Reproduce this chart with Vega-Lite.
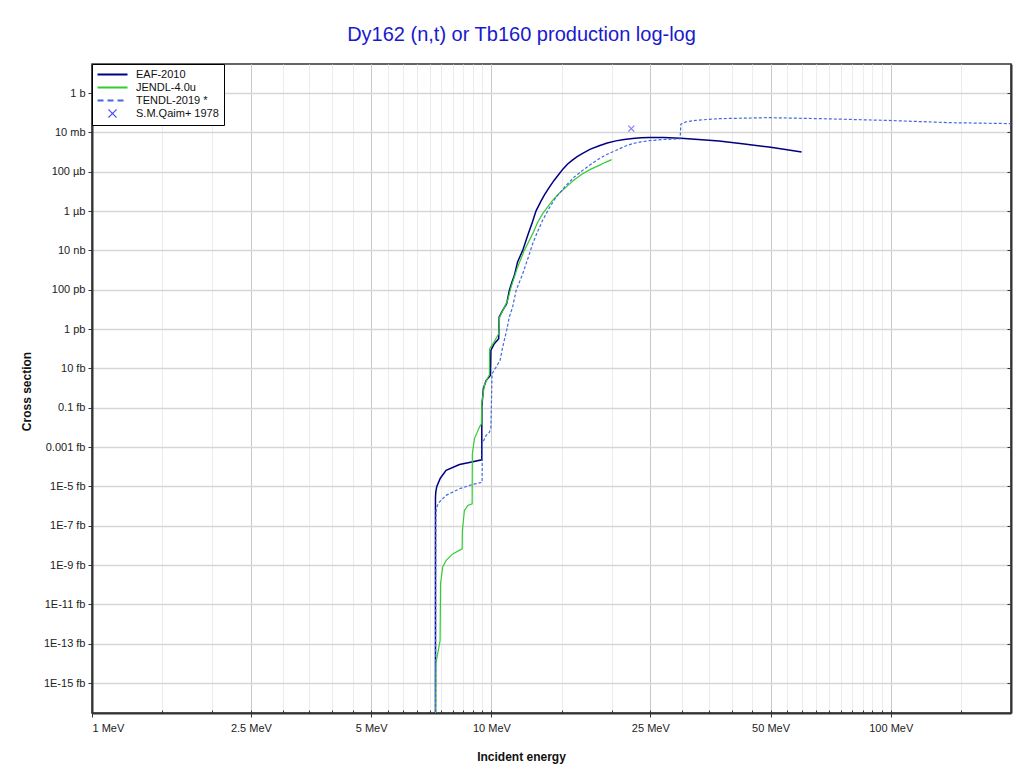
{
  "$schema": "https://vega.github.io/schema/vega-lite/v6.json",
  "width": 919,
  "height": 649,
  "autosize": {"type": "none"},
  "padding": {"left": 92, "top": 64, "right": 9, "bottom": 60},
  "background": "white",
  "title": {"text": "Dy162 (n,t) or Tb160 production log-log", "fontSize": 20, "font": "Liberation Sans", "fontWeight": "normal", "color": "#1a1acc", "anchor": "middle", "dx": -30, "baseline": "alphabetic", "offset": 3},
  "config": {
    "font": "Liberation Sans",
    "view": {"stroke": "#333", "strokeWidth": 1.5},
    "axis": {"labelFont": "Liberation Sans", "labelFontSize": 11, "labelColor": "#222", "tickColor": "#333", "domainColor": "#333", "domainWidth": 2, "titleFont": "Liberation Sans", "titleFontSize": 12, "titleFontWeight": "bold", "titleColor": "#111"}
  },
  "datasets": {
    "curves": [
      {"series": "EAF-2010", "energy": 7.244, "xs": 1e-33},
      {"series": "EAF-2010", "energy": 7.244, "xs": 2.7e-21},
      {"series": "EAF-2010", "energy": 7.26, "xs": 5.5e-21},
      {"series": "EAF-2010", "energy": 7.30, "xs": 1.0e-20},
      {"series": "EAF-2010", "energy": 7.45, "xs": 2.6e-20},
      {"series": "EAF-2010", "energy": 7.70, "xs": 6.5e-20},
      {"series": "EAF-2010", "energy": 8.32, "xs": 1.3e-19},
      {"series": "EAF-2010", "energy": 8.81, "xs": 1.65e-19},
      {"series": "EAF-2010", "energy": 9.46, "xs": 2.25e-19},
      {"series": "EAF-2010", "energy": 9.465, "xs": 1.1e-16},
      {"series": "EAF-2010", "energy": 9.55, "xs": 9.5e-16},
      {"series": "EAF-2010", "energy": 9.70, "xs": 2.4e-15},
      {"series": "EAF-2010", "energy": 9.94, "xs": 4.4e-15},
      {"series": "EAF-2010", "energy": 9.97, "xs": 8.2e-14},
      {"series": "EAF-2010", "energy": 10.17, "xs": 1.8e-13},
      {"series": "EAF-2010", "energy": 10.43, "xs": 3.2e-13},
      {"series": "EAF-2010", "energy": 10.46, "xs": 4.1e-12},
      {"series": "EAF-2010", "energy": 10.67, "xs": 8.9e-12},
      {"series": "EAF-2010", "energy": 10.92, "xs": 1.95e-11},
      {"series": "EAF-2010", "energy": 11.09, "xs": 9.1e-11},
      {"series": "EAF-2010", "energy": 11.25, "xs": 2.3e-10},
      {"series": "EAF-2010", "energy": 11.42, "xs": 5.4e-10},
      {"series": "EAF-2010", "energy": 11.63, "xs": 2.6e-9},
      {"series": "EAF-2010", "energy": 11.98, "xs": 1.0e-8},
      {"series": "EAF-2010", "energy": 12.35, "xs": 6.5e-8},
      {"series": "EAF-2010", "energy": 12.69, "xs": 3.0e-7},
      {"series": "EAF-2010", "energy": 12.93, "xs": 1.0e-6},
      {"series": "EAF-2010", "energy": 13.31, "xs": 3.2e-6},
      {"series": "EAF-2010", "energy": 13.6, "xs": 7.0e-6},
      {"series": "EAF-2010", "energy": 13.96, "xs": 1.6e-5},
      {"series": "EAF-2010", "energy": 14.35, "xs": 3.6e-5},
      {"series": "EAF-2010", "energy": 14.79, "xs": 7.9e-5},
      {"series": "EAF-2010", "energy": 15.1, "xs": 1.35e-4},
      {"series": "EAF-2010", "energy": 15.5, "xs": 2.4e-4},
      {"series": "EAF-2010", "energy": 15.95, "xs": 3.9e-4},
      {"series": "EAF-2010", "energy": 16.4, "xs": 5.8e-4},
      {"series": "EAF-2010", "energy": 16.92, "xs": 8.5e-4},
      {"series": "EAF-2010", "energy": 17.7, "xs": 1.4e-3},
      {"series": "EAF-2010", "energy": 18.62, "xs": 2.1e-3},
      {"series": "EAF-2010", "energy": 19.5, "xs": 2.9e-3},
      {"series": "EAF-2010", "energy": 20.5, "xs": 3.7e-3},
      {"series": "EAF-2010", "energy": 21.5, "xs": 4.4e-3},
      {"series": "EAF-2010", "energy": 22.56, "xs": 4.95e-3},
      {"series": "EAF-2010", "energy": 23.7, "xs": 5.35e-3},
      {"series": "EAF-2010", "energy": 24.83, "xs": 5.55e-3},
      {"series": "EAF-2010", "energy": 27.0, "xs": 5.5e-3},
      {"series": "EAF-2010", "energy": 29.81, "xs": 5.1e-3},
      {"series": "EAF-2010", "energy": 33.0, "xs": 4.4e-3},
      {"series": "EAF-2010", "energy": 37.15, "xs": 3.6e-3},
      {"series": "EAF-2010", "energy": 43.0, "xs": 2.6e-3},
      {"series": "EAF-2010", "energy": 49.55, "xs": 1.8e-3},
      {"series": "EAF-2010", "energy": 54.5, "xs": 1.35e-3},
      {"series": "EAF-2010", "energy": 59.8, "xs": 1.0e-3},

      {"series": "JENDL-4.0u", "energy": 7.244, "xs": 1e-33},
      {"series": "JENDL-4.0u", "energy": 7.26, "xs": 9.8e-30},
      {"series": "JENDL-4.0u", "energy": 7.44, "xs": 1.45e-28},
      {"series": "JENDL-4.0u", "energy": 7.46, "xs": 1.1e-25},
      {"series": "JENDL-4.0u", "energy": 7.55, "xs": 7.8e-25},
      {"series": "JENDL-4.0u", "energy": 7.70, "xs": 1.7e-24},
      {"series": "JENDL-4.0u", "energy": 8.00, "xs": 3.7e-24},
      {"series": "JENDL-4.0u", "energy": 8.45, "xs": 6.7e-24},
      {"series": "JENDL-4.0u", "energy": 8.46, "xs": 5.7e-23},
      {"series": "JENDL-4.0u", "energy": 8.56, "xs": 5.9e-22},
      {"series": "JENDL-4.0u", "energy": 8.73, "xs": 1.07e-21},
      {"series": "JENDL-4.0u", "energy": 8.95, "xs": 1.3e-21},
      {"series": "JENDL-4.0u", "energy": 8.96, "xs": 4.6e-19},
      {"series": "JENDL-4.0u", "energy": 9.07, "xs": 2.7e-18},
      {"series": "JENDL-4.0u", "energy": 9.33, "xs": 1.0e-17},
      {"series": "JENDL-4.0u", "energy": 9.44, "xs": 1.5e-17},
      {"series": "JENDL-4.0u", "energy": 9.46, "xs": 1.65e-16},
      {"series": "JENDL-4.0u", "energy": 9.61, "xs": 1.5e-15},
      {"series": "JENDL-4.0u", "energy": 9.89, "xs": 4.9e-15},
      {"series": "JENDL-4.0u", "energy": 9.90, "xs": 1.0e-13},
      {"series": "JENDL-4.0u", "energy": 10.17, "xs": 2.3e-13},
      {"series": "JENDL-4.0u", "energy": 10.43, "xs": 5.8e-13},
      {"series": "JENDL-4.0u", "energy": 10.49, "xs": 4.1e-12},
      {"series": "JENDL-4.0u", "energy": 10.78, "xs": 1.3e-11},
      {"series": "JENDL-4.0u", "energy": 10.98, "xs": 2.9e-11},
      {"series": "JENDL-4.0u", "energy": 11.20, "xs": 1.35e-10},
      {"series": "JENDL-4.0u", "energy": 11.63, "xs": 1.4e-9},
      {"series": "JENDL-4.0u", "energy": 12.09, "xs": 1.0e-8},
      {"series": "JENDL-4.0u", "energy": 12.69, "xs": 7.1e-8},
      {"series": "JENDL-4.0u", "energy": 13.05, "xs": 2.6e-7},
      {"series": "JENDL-4.0u", "energy": 13.44, "xs": 7.4e-7},
      {"series": "JENDL-4.0u", "energy": 14.23, "xs": 3.5e-6},
      {"series": "JENDL-4.0u", "energy": 14.8, "xs": 8.0e-6},
      {"series": "JENDL-4.0u", "energy": 15.38, "xs": 1.65e-5},
      {"series": "JENDL-4.0u", "energy": 16.1, "xs": 3.8e-5},
      {"series": "JENDL-4.0u", "energy": 16.92, "xs": 7.9e-5},
      {"series": "JENDL-4.0u", "energy": 17.75, "xs": 1.35e-4},
      {"series": "JENDL-4.0u", "energy": 18.62, "xs": 2.1e-4},
      {"series": "JENDL-4.0u", "energy": 19.3, "xs": 3.0e-4},
      {"series": "JENDL-4.0u", "energy": 20.0, "xs": 4.1e-4},

      {"series": "TENDL-2019 *", "energy": 7.244, "xs": 1e-33},
      {"series": "TENDL-2019 *", "energy": 7.26, "xs": 1.85e-22},
      {"series": "TENDL-2019 *", "energy": 7.27, "xs": 5.9e-22},
      {"series": "TENDL-2019 *", "energy": 7.33, "xs": 1.1e-21},
      {"series": "TENDL-2019 *", "energy": 7.41, "xs": 1.6e-21},
      {"series": "TENDL-2019 *", "energy": 7.70, "xs": 3.5e-21},
      {"series": "TENDL-2019 *", "energy": 8.32, "xs": 7.6e-21},
      {"series": "TENDL-2019 *", "energy": 8.98, "xs": 1.26e-20},
      {"series": "TENDL-2019 *", "energy": 9.48, "xs": 1.6e-20},
      {"series": "TENDL-2019 *", "energy": 9.49, "xs": 1.5e-18},
      {"series": "TENDL-2019 *", "energy": 9.70, "xs": 3.9e-18},
      {"series": "TENDL-2019 *", "energy": 9.89, "xs": 5.7e-18},
      {"series": "TENDL-2019 *", "energy": 9.97, "xs": 1.0e-17},
      {"series": "TENDL-2019 *", "energy": 10.04, "xs": 5.3e-15},
      {"series": "TENDL-2019 *", "energy": 10.27, "xs": 1.15e-14},
      {"series": "TENDL-2019 *", "energy": 10.51, "xs": 2.5e-14},
      {"series": "TENDL-2019 *", "energy": 10.67, "xs": 1.2e-13},
      {"series": "TENDL-2019 *", "energy": 10.92, "xs": 8.5e-13},
      {"series": "TENDL-2019 *", "energy": 11.09, "xs": 4.1e-12},
      {"series": "TENDL-2019 *", "energy": 11.30, "xs": 1.3e-11},
      {"series": "TENDL-2019 *", "energy": 11.53, "xs": 9.1e-11},
      {"series": "TENDL-2019 *", "energy": 11.98, "xs": 6.5e-10},
      {"series": "TENDL-2019 *", "energy": 12.35, "xs": 4.0e-9},
      {"series": "TENDL-2019 *", "energy": 12.69, "xs": 2.2e-8},
      {"series": "TENDL-2019 *", "energy": 13.05, "xs": 9.0e-8},
      {"series": "TENDL-2019 *", "energy": 13.44, "xs": 3.4e-7},
      {"series": "TENDL-2019 *", "energy": 13.95, "xs": 1.4e-6},
      {"series": "TENDL-2019 *", "energy": 14.52, "xs": 5.1e-6},
      {"series": "TENDL-2019 *", "energy": 15.38, "xs": 2.0e-5},
      {"series": "TENDL-2019 *", "energy": 16.1, "xs": 5.2e-5},
      {"series": "TENDL-2019 *", "energy": 16.92, "xs": 1.17e-4},
      {"series": "TENDL-2019 *", "energy": 17.75, "xs": 2.4e-4},
      {"series": "TENDL-2019 *", "energy": 18.62, "xs": 4.6e-4},
      {"series": "TENDL-2019 *", "energy": 19.5, "xs": 7.8e-4},
      {"series": "TENDL-2019 *", "energy": 20.5, "xs": 1.2e-3},
      {"series": "TENDL-2019 *", "energy": 21.5, "xs": 1.9e-3},
      {"series": "TENDL-2019 *", "energy": 22.56, "xs": 2.7e-3},
      {"series": "TENDL-2019 *", "energy": 23.7, "xs": 3.3e-3},
      {"series": "TENDL-2019 *", "energy": 24.83, "xs": 3.8e-3},
      {"series": "TENDL-2019 *", "energy": 27.0, "xs": 4.35e-3},
      {"series": "TENDL-2019 *", "energy": 29.69, "xs": 4.7e-3},
      {"series": "TENDL-2019 *", "energy": 29.81, "xs": 2.6e-2},
      {"series": "TENDL-2019 *", "energy": 30.68, "xs": 3.4e-2},
      {"series": "TENDL-2019 *", "energy": 32.5, "xs": 4.1e-2},
      {"series": "TENDL-2019 *", "energy": 37.15, "xs": 5.0e-2},
      {"series": "TENDL-2019 *", "energy": 49.55, "xs": 5.6e-2},
      {"series": "TENDL-2019 *", "energy": 66.07, "xs": 5.0e-2},
      {"series": "TENDL-2019 *", "energy": 97.0, "xs": 4.1e-2},
      {"series": "TENDL-2019 *", "energy": 142.3, "xs": 3.1e-2},
      {"series": "TENDL-2019 *", "energy": 200, "xs": 2.8e-2},

      {"series": "S.M.Qaim+ 1978", "energy": 22.4, "xs": 0.0155}
    ]
  },
  "data": {"name": "curves"},
  "resolve": {"axis": {"x": "independent", "y": "independent"}},
  "encoding": {
    "x": {"field": "energy", "type": "quantitative", "scale": {"type": "log", "domain": [1, 200]}},
    "y": {"field": "xs", "type": "quantitative", "scale": {"type": "log", "domain": [3e-32, 30]}},
    "color": {
      "field": "series", "type": "nominal",
      "scale": {"domain": ["EAF-2010", "JENDL-4.0u", "TENDL-2019 *", "S.M.Qaim+ 1978"], "range": ["#000080", "#33cc33", "#4169e1", "#4a4aff"]},
      "legend": {
        "title": null, "orient": "top-left", "offset": 0, "padding": 5,
        "fillColor": "white", "strokeColor": "black", "cornerRadius": 0,
        "symbolType": "stroke", "symbolSize": 100, "symbolStrokeWidth": 2,
        "labelFont": "Liberation Sans", "labelFontSize": 11, "labelColor": "#111",
        "labelOffset": 28, "rowPadding": 1,
        "encode": {
          "symbols": {
            "update": {
              "shape": {"signal": "datum.value === 'S.M.Qaim+ 1978' ? 'M1.2,-0.8L2.8,0.8M1.2,0.8L2.8,-0.8' : 'M-1,0L5,0'"},
              "strokeDash": {"signal": "datum.value === 'TENDL-2019 *' ? [6,4] : [1,0]"},
              "strokeWidth": {"signal": "datum.value === 'S.M.Qaim+ 1978' ? 1.2 : 2"},
              "stroke": {"signal": "scale('color', datum.value)"},
              "size": {"value": 100},
              "fill": {"value": "transparent"}
            }
          }
        }
      }
    }
  },
  "layer": [
    {
      "transform": [{"filter": "datum.series === 'EAF-2010'"}],
      "mark": {"type": "line", "strokeWidth": 1.5, "clip": true},
      "encoding": {
        "order": {"value": null},
        "x": {"field": "energy", "type": "quantitative", "scale": {"type": "log", "domain": [1, 200]},
          "axis": {"orient": "bottom", "values": [1,1.5,2,2.5,3,3.5,4,4.5,5,5.5,6,6.5,7,7.5,8,8.5,9,9.5,10,15,20,25,30,35,40,45,50,55,60,65,70,75,80,85,90,95,100,150], "labels": false, "title": null, "domain": false, "tickSize": -3, "grid": true, "gridColor": "#ececec", "gridWidth": 1}},
        "y": {"field": "xs", "type": "quantitative", "scale": {"type": "log", "domain": [3e-32, 30]},
          "axis": {"orient": "left", "values": [1,1e-2,1e-4,1e-6,1e-8,1e-10,1e-12,1e-14,1e-16,1e-18,1e-20,1e-22,1e-24,1e-26,1e-28,1e-30],
            "labelExpr": "['1 b','10 mb','100 µb','1 µb','10 nb','100 pb','1 pb','10 fb','0.1 fb','0.001 fb','1E-5 fb','1E-7 fb','1E-9 fb','1E-11 fb','1E-13 fb','1E-15 fb'][round(-log(datum.value)/LN10/2)]",
            "tickSize": 4, "labelPadding": 3, "grid": true, "gridColor": "#d6d6d6", "gridWidth": 1.3,
            "title": "Cross section", "titleX": -66, "titleY": 327, "titleAngle": 270, "titleBaseline": "middle", "titleAlign": "center"}}
      }
    },
    {
      "transform": [{"filter": "datum.series === 'JENDL-4.0u'"}],
      "mark": {"type": "line", "strokeWidth": 1.2, "clip": true},
      "encoding": {
        "order": {"value": null},
        "x": {"field": "energy", "type": "quantitative", "scale": {"type": "log", "domain": [1, 200]},
          "axis": {"orient": "bottom", "values": [1,2.5,5,10,25,50,100], "labelExpr": "datum.value + ' MeV'", "tickSize": 4, "labelPadding": 5, "grid": true, "gridColor": "#c8c8c8", "gridWidth": 1,
            "title": "Incident energy", "titleX": 429, "titleY": 38, "titleBaseline": "top", "titleAlign": "center"}},
        "y": {"field": "xs", "type": "quantitative", "scale": {"type": "log", "domain": [3e-32, 30]},
          "axis": {"orient": "right", "values": [1,1e-2,1e-4,1e-6,1e-8,1e-10,1e-12,1e-14,1e-16,1e-18,1e-20,1e-22,1e-24,1e-26,1e-28,1e-30], "labels": false, "title": null, "grid": false, "tickSize": -4}}
      }
    },
    {
      "transform": [{"filter": "datum.series === 'TENDL-2019 *'"}],
      "mark": {"type": "line", "strokeWidth": 1.2, "strokeDash": [3, 2], "clip": true},
      "encoding": {
        "order": {"value": null},
        "x": {"field": "energy", "type": "quantitative", "scale": {"type": "log", "domain": [1, 200]}, "axis": null},
        "y": {"field": "xs", "type": "quantitative", "scale": {"type": "log", "domain": [3e-32, 30]}, "axis": null}
      }
    },
    {
      "transform": [{"filter": "datum.series === 'S.M.Qaim+ 1978'"}],
      "mark": {"type": "point", "shape": "M-1,-1L1,1M-1,1L1,-1", "size": 36, "filled": false, "strokeWidth": 1.2, "clip": true},
      "encoding": {
        "x": {"field": "energy", "type": "quantitative", "scale": {"type": "log", "domain": [1, 200]}, "axis": null},
        "y": {"field": "xs", "type": "quantitative", "scale": {"type": "log", "domain": [3e-32, 30]}, "axis": null}
      }
    }
  ]
}
